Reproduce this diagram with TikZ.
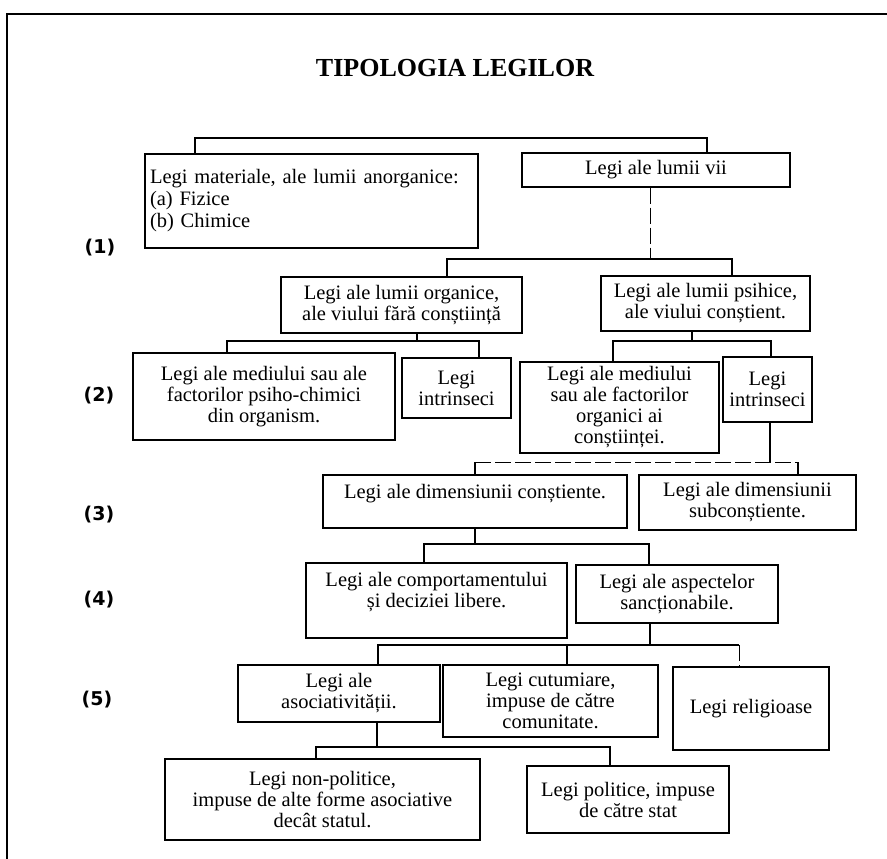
\documentclass[tikz,border=0pt]{standalone}
\usepackage{fontspec}
\setmainfont{Liberation Serif}
\newfontfamily\lblfont{DejaVu Sans}
\begin{document}
\begin{tikzpicture}[x=1pt, y=1pt,
  box/.style={draw, line width=1.3pt, align=center, inner sep=0pt, font=\fontsize{20.5}{21}\selectfont},
  link/.style={line width=1.3pt},
  gap/.style={line width=1pt, dash pattern=on 16pt off 4pt},
  lvl/.style={font=\lblfont\bfseries\fontsize{19}{19}\selectfont}]
  \useasboundingbox (0,0) rectangle (887,-859);
  \draw[line width=1.8pt] (7,-859) -- (7,-14) -- (887,-14);

  \node (title) at (455,-68) {\fontsize{26}{30}\selectfont\bfseries TIPOLOGIA LEGILOR};

  \node (11) [box, align=left, inner xsep=5pt, text width=323, minimum height=94, font=\fontsize{20.5}{22}\selectfont] at (311.5,-201) {Legi materiale, ale lumii anorganice:\\(a) Fizice\\(b) Chimice};
  \node (12) [box, minimum width=268, minimum height=34] at (656,-170) {Legi ale lumii vii};

  \node (21) [box, minimum width=241, minimum height=56] at (401.5,-305) {Legi ale lumii organice,\\ale viului fără conștiință};
  \node (22) [box, minimum width=209, minimum height=55] at (705.5,-303.5) {Legi ale lumii psihice,\\ale viului conștient.};

  \node (31) [box, minimum width=262, minimum height=87] at (264,-396.5) {Legi ale mediului sau ale\\factorilor psiho-chimici\\din organism.};
  \node (32) [box, minimum width=109, minimum height=60] at (456.5,-388) {Legi\\intrinseci};
  \node (33) [box, minimum width=199, minimum height=91] at (619.5,-407.5) {Legi ale mediului\\sau ale factorilor\\organici ai\\conștiinței.};
  \node (34) [box, minimum width=89, minimum height=65] at (767.5,-389.5) {Legi\\intrinseci};

  \node (41) [box, minimum width=304, minimum height=53] at (475,-501.5) {Legi ale dimensiunii conștiente.\\\mbox{}};
  \node (42) [box, minimum width=217, minimum height=55] at (747.5,-502.5) {Legi ale dimensiunii\\subconștiente.};

  \node (51) [box, minimum width=261, minimum height=75] at (436.5,-600.5) {Legi ale comportamentului\\și deciziei libere.\\\mbox{}};
  \node (52) [box, minimum width=202, minimum height=58] at (677,-594) {Legi ale aspectelor\\sancționabile.};

  \node (61) [box, minimum width=202, minimum height=57] at (339,-693.5) {Legi ale\\asociativității.};
  \node (62) [box, minimum width=215, minimum height=72] at (550.5,-701) {Legi cutumiare,\\impuse de către\\comunitate.};
  \node (63) [box, minimum width=156, minimum height=83] at (751,-708.5) {Legi religioase};

  \node (71) [box, minimum width=315, minimum height=81] at (322.5,-799.5) {Legi non-politice,\\impuse de alte forme asociative\\decât statul.};
  \node (72) [box, minimum width=202, minimum height=67] at (628,-799.5) {Legi politice, impuse\\de către stat};

  \node (n1) [lvl] at (100,-248) {(1)};
  \node (n2) [lvl] at (99,-396) {(2)};
  \node (n3) [lvl] at (99,-515) {(3)};
  \node (n4) [lvl] at (99,-600) {(4)};
  \node (n5) [lvl] at (97,-700) {(5)};

  \coordinate (a1) at (195,-138);
  \coordinate (a2) at (707,-138);
  \draw[link, line width=1.8pt] (11.north -| a1) -- (a1) -- (a2) -- (12.north -| a2);

  \coordinate (b0) at (650,-259);
  \coordinate (b1) at (447,-259);
  \coordinate (b2) at (732,-259);
  \draw[gap] (12.south -| b0) -- (b0);
  \draw[link] (21.north -| b1) -- (b1) -- (b2) -- (22.north -| b2);

  \coordinate (c0) at (417,-341);
  \coordinate (c1) at (227,-341);
  \coordinate (c2) at (479,-341);
  \draw[link] (21.south -| c0) -- (c0);
  \draw[link] (31.north -| c1) -- (c1) -- (c2) -- (32.north -| c2);

  \coordinate (d0) at (692,-341);
  \coordinate (d1) at (613,-341);
  \coordinate (d2) at (771,-341);
  \draw[link] (22.south -| d0) -- (d0);
  \draw[link] (33.north -| d1) -- (d1) -- (d2) -- (34.north -| d2);

  \coordinate (e0) at (770,-462);
  \coordinate (e1) at (475,-462);
  \coordinate (e2) at (798,-462);
  \draw[link] (34.south -| e0) -- (e0);
  \draw[gap] (e1) -- (e2);
  \draw[link] (41.north -| e1) -- (e1);
  \draw[link] (42.north -| e2) -- (e2);

  \coordinate (f0) at (475,-544);
  \coordinate (f1) at (424,-544);
  \coordinate (f2) at (649,-544);
  \draw[link] (41.south -| f0) -- (f0);
  \draw[link] (51.north -| f1) -- (f1) -- (f2) -- (52.north -| f2);

  \coordinate (g0) at (650,-645);
  \coordinate (g1) at (378,-645);
  \coordinate (g2) at (567,-645);
  \coordinate (g3) at (739,-645);
  \draw[link] (52.south -| g0) -- (g0);
  \draw[link] (61.north -| g1) -- (g1) -- (g3);
  \draw[link] (g2) -- (62.north -| g2);
  \draw[gap] (g3) -- (63.north -| g3);

  \coordinate (h0) at (377,-747);
  \coordinate (h1) at (316,-747);
  \coordinate (h2) at (610,-747);
  \draw[link] (61.south -| h0) -- (h0);
  \draw[link] (71.north -| h1) -- (h1) -- (h2) -- (72.north -| h2);
\end{tikzpicture}
\end{document}
